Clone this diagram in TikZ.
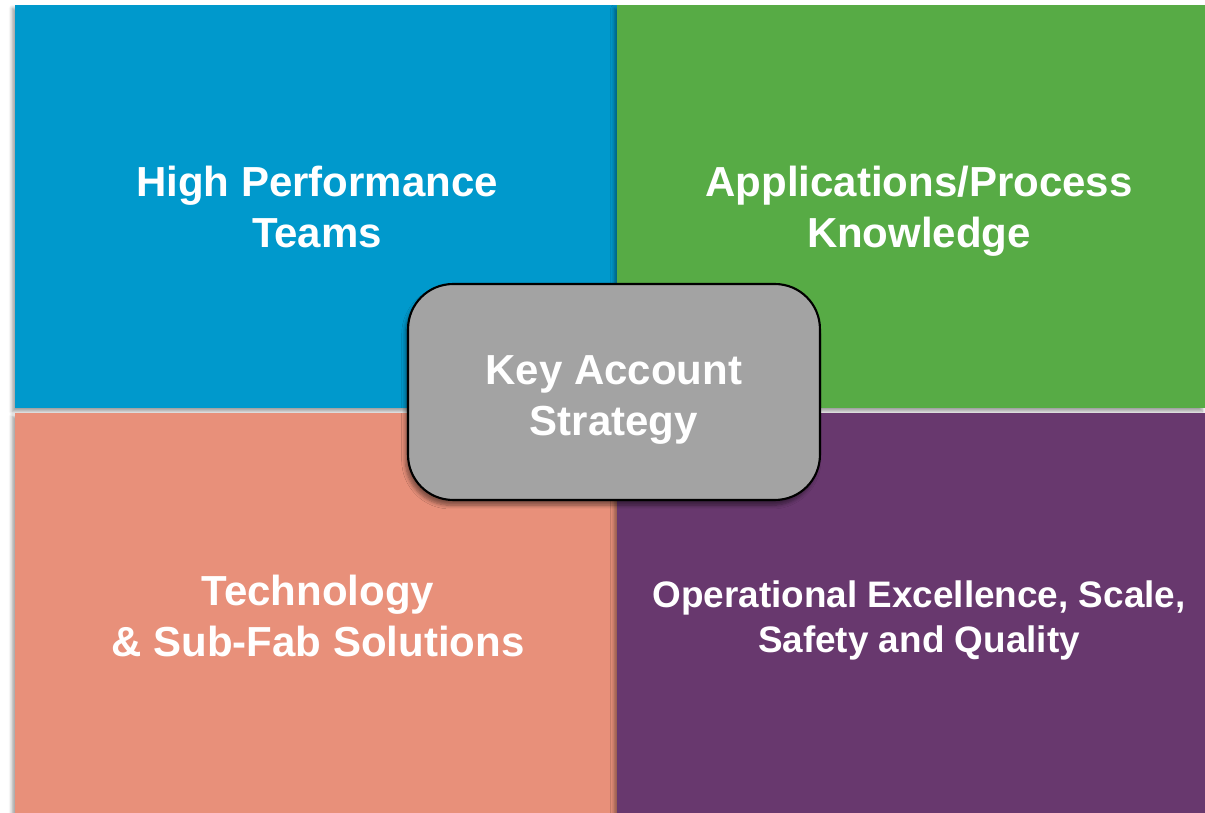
\documentclass[tikz,border=0pt]{standalone}
\usepackage{fontspec}
\setmainfont{Liberation Sans}
\usetikzlibrary{shadows.blur}
\definecolor{kablue}{RGB}{0,153,204}
\definecolor{kagreen}{RGB}{87,171,69}
\definecolor{kasalmon}{RGB}{232,144,122}
\definecolor{kapurple}{RGB}{104,56,110}
\definecolor{kagray}{RGB}{163,163,163}
\begin{document}
\begin{tikzpicture}[x=0.02cm, y=-0.02cm,
  quad/.style={blur shadow={shadow xshift=-1.5pt, shadow yshift=-2pt, shadow blur steps=6, shadow opacity=40}},
  lbl/.style={text=white, align=center, font=\bfseries\fontsize{23.9}{29.2}\selectfont},
  lblsmall/.style={text=white, align=center, font=\bfseries\fontsize{21}{25.6}\selectfont}]
\useasboundingbox (0,0) rectangle (1205,813);
% quadrants
\path[quad, fill=kablue] (15,5) rectangle (617,408);
\path[quad, fill=kagreen] (617,5) rectangle (1205,408);
\path[quad, fill=kasalmon] (15,413) rectangle (617,813);
\path[quad, fill=kapurple] (617,413) rectangle (1205,813);
\node[lbl] (hpt) at (317,207) {High Performance\\Teams};
\node[lbl] (app) at (919,211) {Applications/Process\\Knowledge};
\node[lbl] (tech) at (318,616) {Technology\\\& Sub-Fab Solutions};
\node[lblsmall] (opex) at (919,620) {Operational Excellence, Scale,\\Safety and Quality};
% centre
\node[draw=black, line width=1.2pt, fill=kagray, rounded corners=0.9cm,
  minimum width=8.24cm, minimum height=4.32cm,
  blur shadow={shadow xshift=-1.5pt, shadow yshift=-3pt, shadow blur steps=6, shadow opacity=45}]
  (kas) at (614,392) {};
\node[lbl] (kastext) at (614,400) {Key Account\\Strategy};
\end{tikzpicture}
\end{document}
